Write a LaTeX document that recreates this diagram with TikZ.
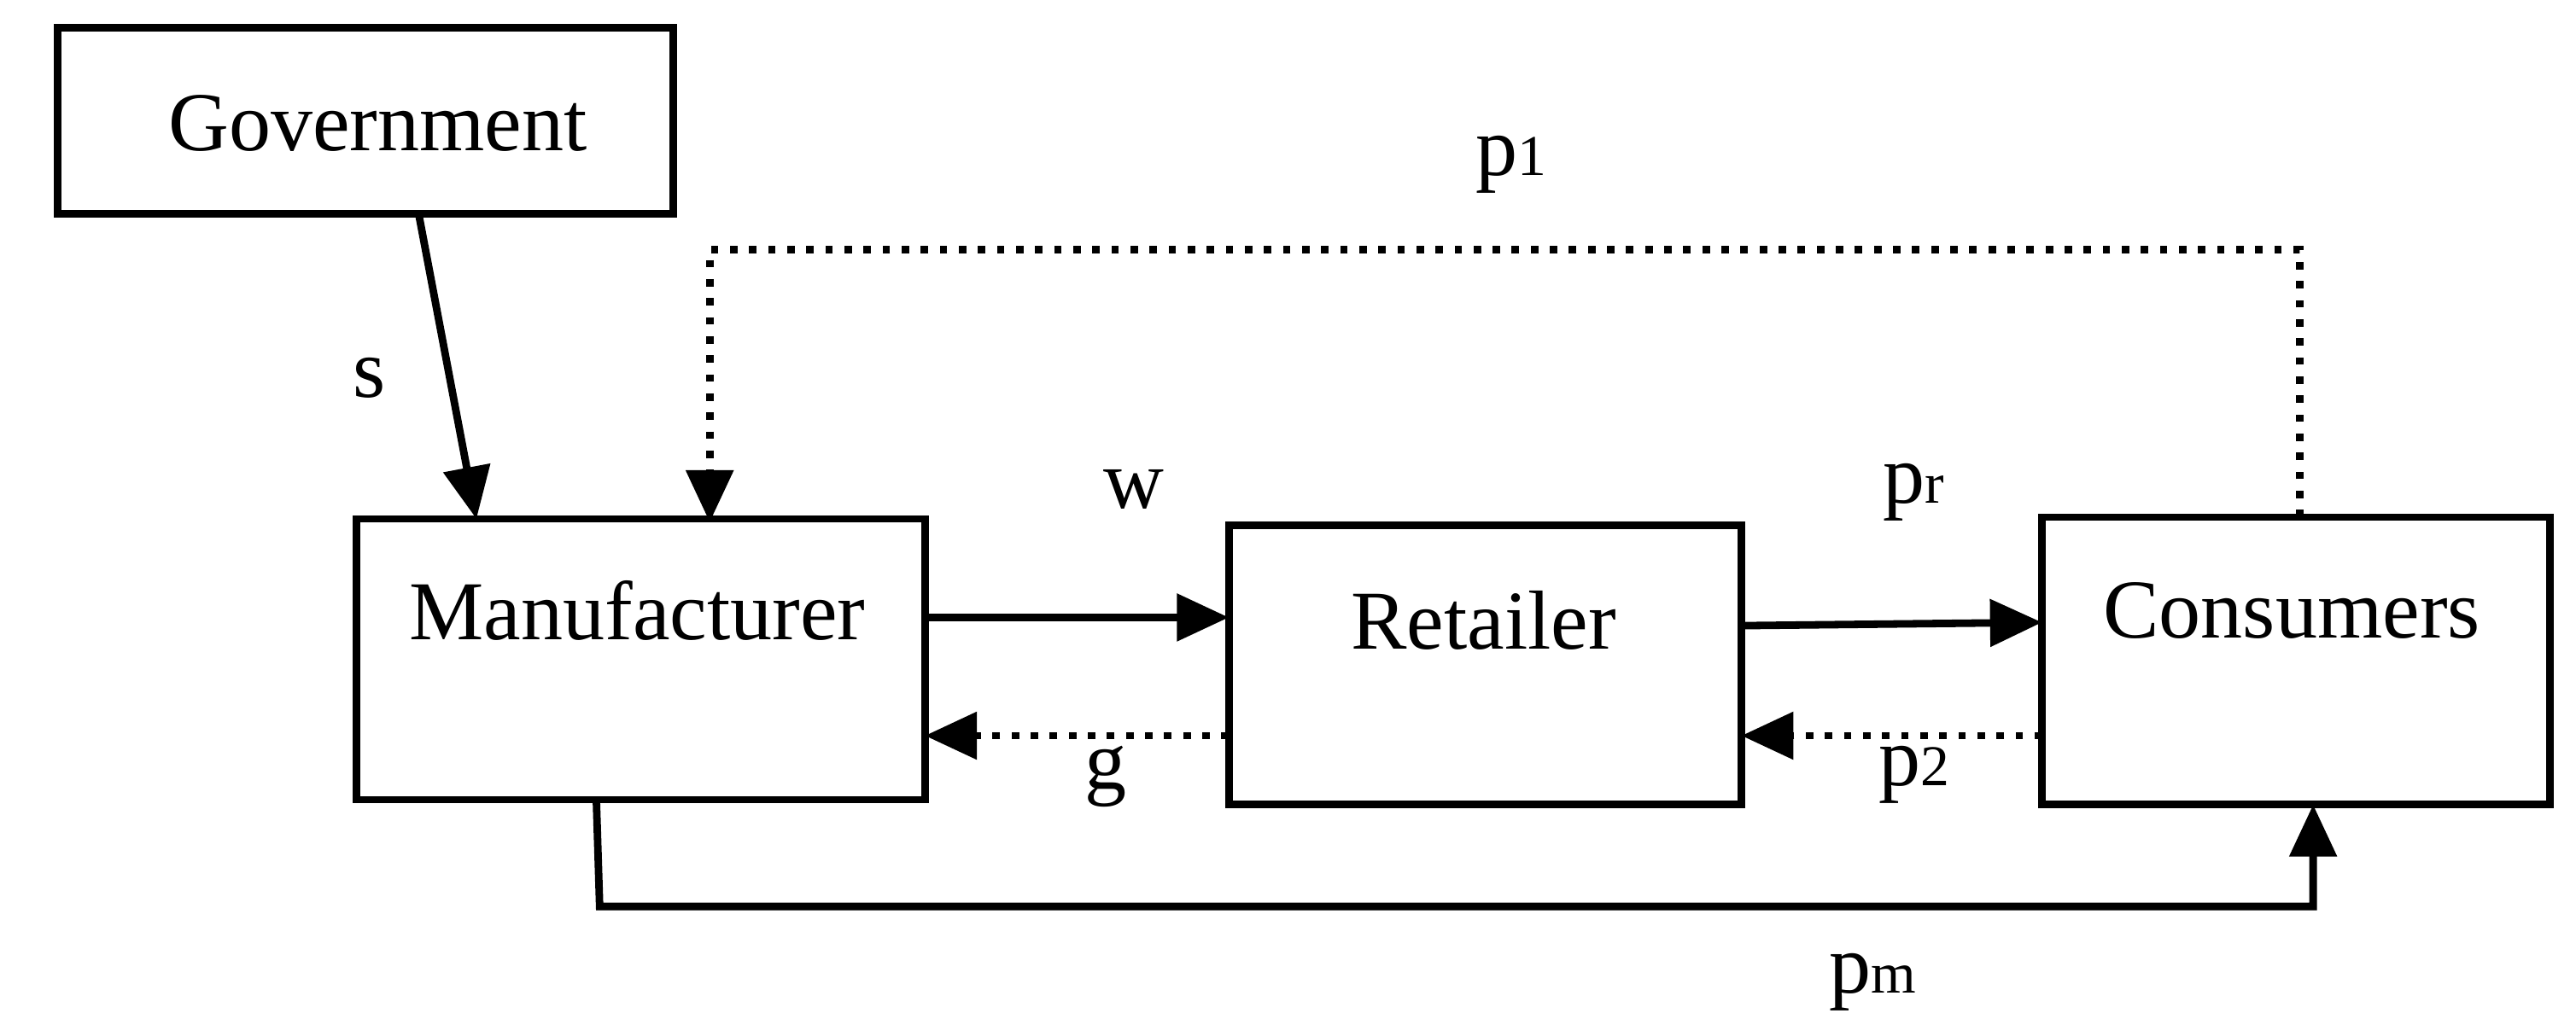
\documentclass[tikz,border=0pt]{standalone}
\usepackage{fontspec}
\setmainfont{Liberation Serif}
\usetikzlibrary{arrows.meta}
\begin{document}
\begin{tikzpicture}[x=0.01cm,y=-0.01cm,
  box/.style={draw,line width=1.3pt,inner sep=0pt},
  txt/.style={font=\fontsize{14.5}{16}\selectfont},
  lab/.style={font=\fontsize{14.5}{16}\selectfont},
  arr/.style={line width=1.3pt,-{Triangle[length=9pt,width=8pt]}},
  dot/.style={line width=1.3pt,dotted}]
\useasboundingbox (0,0) rectangle (1568,624);
\draw[box] (35,17) rectangle (410,130);
\node[txt] (gov) at (230,75) {Government};
\draw[box] (217,316) rectangle (563,487);
\node[txt] (man) at (388,372) {Manufacturer};
\draw[box] (748,320) rectangle (1060,490);
\node[txt] (ret) at (903,378) {Retailer};
\draw[box] (1243,315) rectangle (1552,490);
\node[txt] (con) at (1395,372) {Consumers};
\coordinate (s1) at (255,131); \coordinate (s2) at (290,316);
\draw[arr] (s1) -- (s2);
\node[lab] (ls) at (225,230) {s};
\coordinate (d1) at (1400,315); \coordinate (d2) at (432,318);
\draw[dot,-{Triangle[length=9pt,width=8pt]}] (d1) -- (1400,152) -- (432,152) -- (d2);
\node[lab] (l1) at (920,100) {p{\fontsize{10}{12}\selectfont 1}};
\coordinate (w1) at (563,376); \coordinate (w2) at (748,376);
\draw[arr] (w1) -- (w2);
\node[lab] (lw) at (690,298) {w};
\coordinate (g1) at (748,448); \coordinate (g2) at (563,448);
\draw[dot,-{Triangle[length=9pt,width=8pt]}] (g1) -- (g2);
\node[lab] (lg) at (673,473) {g};
\coordinate (r1) at (1060,381); \coordinate (r2) at (1243,379);
\draw[arr] (r1) -- (r2);
\node[lab] (lr) at (1165,300) {p{\fontsize{10}{12}\selectfont r}};
\coordinate (q1) at (1243,448); \coordinate (q2) at (1060,448);
\draw[dot,-{Triangle[length=9pt,width=8pt]}] (q1) -- (q2);
\node[lab] (l2) at (1165,472) {p{\fontsize{10}{12}\selectfont 2}};
\coordinate (m1) at (363,487); \coordinate (m2) at (1408,490);
\draw[arr] (m1) -- (365,552) -- (1408,552) -- (m2);
\node[lab] (lm) at (1140,598) {p{\fontsize{10}{12}\selectfont m}};
\end{tikzpicture}
\end{document}
